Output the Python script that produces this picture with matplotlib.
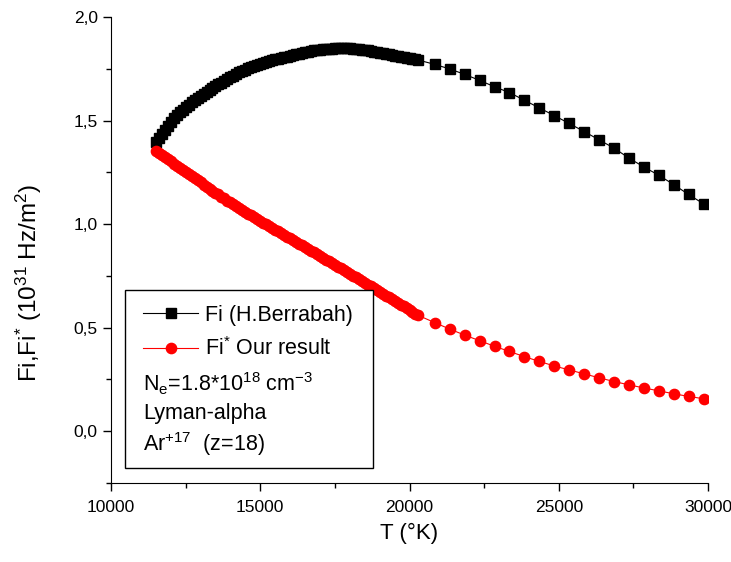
import numpy as np
import matplotlib
matplotlib.use('Agg')
import matplotlib.pyplot as plt
from matplotlib.ticker import MultipleLocator, FuncFormatter
from matplotlib.patches import Rectangle

plt.rcParams['font.family'] = ['Liberation Sans', 'DejaVu Sans']
plt.rcParams['mathtext.default'] = 'regular'

# temperature grids (K): dense part then coarse part
T_dense = np.arange(11500, 20301, 100)
T_sparse = np.arange(20850, 29851, 500)

# Fi (H.Berrabah), 10^31 Hz/m^2
fi_dense = [1.395, 1.415, 1.435, 1.455, 1.474, 1.493, 1.512, 1.526, 1.540, 1.553,
            1.565, 1.577, 1.588, 1.598, 1.608, 1.618, 1.628, 1.638, 1.648, 1.657,
            1.666, 1.675, 1.683, 1.692, 1.700, 1.708, 1.716, 1.725, 1.734, 1.740,
            1.746, 1.752, 1.757, 1.763, 1.768, 1.773, 1.778, 1.783, 1.787, 1.791,
            1.795, 1.799, 1.802, 1.806, 1.809, 1.813, 1.816, 1.820, 1.823, 1.827,
            1.830, 1.833, 1.836, 1.839, 1.841, 1.843, 1.844, 1.845, 1.846, 1.847,
            1.848, 1.849, 1.849, 1.849, 1.848, 1.848, 1.847, 1.846, 1.845, 1.843,
            1.841, 1.839, 1.836, 1.833, 1.830, 1.828, 1.825, 1.823, 1.820, 1.817,
            1.814, 1.811, 1.808, 1.805, 1.802, 1.800, 1.797, 1.795, 1.792]
fi_sparse = [1.771, 1.749, 1.723, 1.694, 1.663, 1.635, 1.598, 1.561, 1.524, 1.486,
             1.447, 1.407, 1.367, 1.319, 1.276, 1.236, 1.191, 1.143, 1.098]

# Fi* (our result)
fis_dense = [1.355, 1.345, 1.334, 1.324, 1.313, 1.303, 1.292, 1.282, 1.271, 1.261,
             1.251, 1.241, 1.231, 1.221, 1.211, 1.201, 1.191, 1.181, 1.171, 1.162,
             1.152, 1.143, 1.133, 1.124, 1.114, 1.105, 1.096, 1.087, 1.078, 1.069,
             1.060, 1.051, 1.042, 1.033, 1.024, 1.016, 1.007, 0.999, 0.990, 0.982,
             0.973, 0.965, 0.956, 0.948, 0.939, 0.931, 0.922, 0.914, 0.905, 0.897,
             0.888, 0.880, 0.871, 0.863, 0.854, 0.846, 0.837, 0.829, 0.820, 0.812,
             0.803, 0.795, 0.786, 0.778, 0.769, 0.760, 0.751, 0.743, 0.734, 0.725,
             0.716, 0.708, 0.699, 0.690, 0.681, 0.673, 0.664, 0.655, 0.646, 0.638,
             0.629, 0.620, 0.611, 0.603, 0.594, 0.585, 0.576, 0.568, 0.559]
fis_sparse = [0.524, 0.493, 0.464, 0.437, 0.410, 0.385, 0.360, 0.337, 0.315, 0.296,
              0.277, 0.258, 0.240, 0.224, 0.209, 0.195, 0.181, 0.168, 0.157]

T = np.concatenate([T_dense, T_sparse])
fi = np.concatenate([fi_dense, fi_sparse])
fis = np.concatenate([fis_dense, fis_sparse])

fig = plt.figure(figsize=(7.31, 5.62), dpi=100)
ax = fig.add_axes([111/731, 1 - 483/562, 597/731, 466/562])

l1, = ax.plot(T, fi, '-', color='k', lw=0.8, marker='s', ms=6.8, mec='k', mfc='k',
              label='Fi (H.Berrabah)')
l2, = ax.plot(T, fis, '-', color='red', lw=0.8, marker='o', ms=7.4, mec='red', mfc='red',
              label='Fi$^{*}$ Our result')

ax.set_xlim(10000, 30000)
ax.set_ylim(-0.25, 2.0)
ax.spines['top'].set_visible(False)
ax.spines['right'].set_visible(False)
ax.xaxis.set_major_locator(MultipleLocator(5000))
ax.xaxis.set_minor_locator(MultipleLocator(2500))
ax.yaxis.set_major_locator(MultipleLocator(0.5))
ax.yaxis.set_minor_locator(MultipleLocator(0.25))
ax.yaxis.set_major_formatter(FuncFormatter(lambda v, p: f'{v:.1f}'.replace('.', ',')))
ax.tick_params(which='major', direction='out', length=6, width=1, labelsize=12.5)
ax.tick_params(which='minor', direction='out', length=3.5, width=1)
ax.tick_params(axis='x', pad=6)

ax.set_xlabel('T (°K)', fontsize=16, labelpad=6)
fig.text(29/731, 1 - 283/562, 'Fi,Fi$^{*}$ (10$^{31}$ Hz/m$^{2}$)', rotation=90,
         ha='center', va='center', fontsize=17.5)

# legend box
def ax_x(px):
    return (px - 111) / 597

def ax_y(py):
    return (483 - py) / 466

ax.add_patch(Rectangle((ax_x(125), ax_y(468)), ax_x(373) - ax_x(125), ax_y(290) - ax_y(468),
                       transform=ax.transAxes, fill=True, facecolor='white', edgecolor='k',
                       lw=1, zorder=5))
leg = ax.legend(handles=[l1, l2], loc='upper left', bbox_to_anchor=(ax_x(143), ax_y(305)),
                frameon=False, fontsize=15.5, handlelength=2.56, handletextpad=0.33,
                labelspacing=0.52, borderpad=0, borderaxespad=0, numpoints=1)
leg.set_zorder(6)
extra = ['N$_{e}$=1.8*10$^{18}$ cm$^{-3}$', 'Lyman-alpha', 'Ar$^{+17}$  (z=18)']
for txt, py in zip(extra, [384, 414, 444]):
    ax.text(ax_x(143), ax_y(py), txt, transform=ax.transAxes, ha='left', va='center',
            fontsize=15.5, zorder=7)

fig.savefig('out.png', dpi=100)
